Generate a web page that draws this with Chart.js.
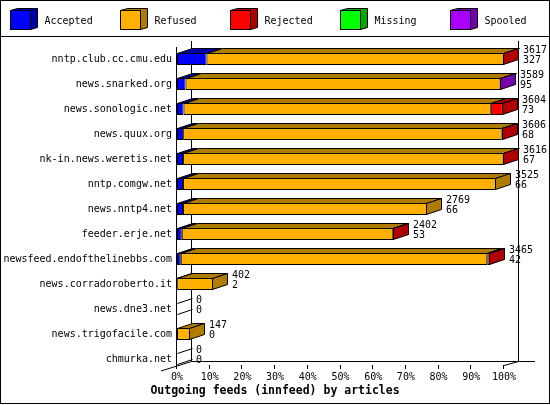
<!DOCTYPE html>
<html lang="en">
<head>
<meta charset="UTF-8">
<title>Outgoing feeds (innfeed) by articles</title>
<script src="https://cdn.jsdelivr.net/npm/chart.js@4.4.0/dist/chart.umd.min.js"></script>
<style>
  html, body { margin: 0; padding: 0; background: #fff; }
  #wrap { width: 550px; height: 405px; position: relative; }
</style>
</head>
<body>
<div id="wrap"><canvas id="feeds"></canvas></div>
<script>
// innfeed peers, top to bottom
const feeds = [
  'nntp.club.cc.cmu.edu', 'news.snarked.org', 'news.sonologic.net', 'news.quux.org',
  'nk-in.news.weretis.net', 'nntp.comgw.net', 'news.nntp4.net', 'feeder.erje.net',
  'newsfeed.endofthelinebbs.com', 'news.corradoroberto.it', 'news.dne3.net',
  'news.trigofacile.com', 'chmurka.net'
]
const offered  = [3617, 3589, 3604, 3606, 3616, 3525, 2769, 2402, 3465, 402, 0, 147, 0]
const accepted = [327, 95, 73, 68, 67, 66, 66, 53, 42, 2, 0, 0, 0]
const refused  = [3286, 3484, 3398, 3523, 3545, 3459, 2703, 2339, 3390, 400, 0, 147, 0]
const rejected = [4, 0, 133, 15, 4, 0, 0, 10, 33, 0, 0, 0, 0]
const missing  = [0, 0, 0, 0, 0, 0, 0, 0, 0, 0, 0, 0, 0]
const spooled  = [0, 10, 0, 0, 0, 0, 0, 0, 0, 0, 0, 0, 0]
const pctTicks = [0, 10, 20, 30, 40, 50, 60, 70, 80, 90, 100]

const maxOffered = Math.max(...offered)
const MONO = '"DejaVu Sans Mono", monospace'
const DX = 15, DY = 5

const series = [
  { label: 'Accepted', data: accepted, front: '#0000ff', side: '#0000a8' },
  { label: 'Refused',  data: refused,  front: '#ffb000', side: '#b07c00' },
  { label: 'Rejected', data: rejected, front: '#ff0000', side: '#b00000' },
  { label: 'Missing',  data: missing,  front: '#00ff00', side: '#00a800' },
  { label: 'Spooled',  data: spooled,  front: '#aa00ff', side: '#7400b0' }
]

function poly(ctx, pts, fill) {
  ctx.beginPath()
  ctx.moveTo(pts[0][0], pts[0][1])
  for (let k = 1; k < pts.length; k++) ctx.lineTo(pts[k][0], pts[k][1])
  ctx.closePath()
  if (fill) { ctx.fillStyle = fill; ctx.fill() }
  ctx.stroke()
}

function seg(ctx, x1, y1, x2, y2) {
  ctx.moveTo(x1, y1)
  ctx.lineTo(x2, y2)
}

// back wall, floor and tick marks, drawn under the bars
const frame3d = {
  id: 'frame3d',
  beforeDatasetsDraw(chart) {
    const { ctx, chartArea, scales: { x, y } } = chart
    const x0 = Math.round(x.getPixelForValue(0))
    const x1 = Math.round(x.getPixelForValue(maxOffered))
    const front = Math.round(y.getPixelForValue(feeds.length - 1)) + 7
    const back = front - DY
    const top = Math.round(chartArea.top)
    ctx.save()
    ctx.strokeStyle = '#000'
    ctx.lineWidth = 1
    ctx.beginPath()
    seg(ctx, x0 - 0.5, top, x0 - 0.5, front)
    seg(ctx, x0 + DX - 0.5, top - 6, x0 + DX - 0.5, back + 0.5)
    seg(ctx, x1 + DX - 0.5, top - 6, x1 + DX - 0.5, back + 0.5)
    seg(ctx, x0 + DX - 0.5, back + 0.5, x1 + DX + 16, back + 0.5)
    seg(ctx, x0 + DX - 0.5, back + 0.5, x0 - 16, front + 5)
    seg(ctx, x1, front - 0.5, x1 + DX - 0.5, back + 0.5)
    x.ticks.forEach(t => {
      const px = Math.round(x.getPixelForValue(t.value)) - 0.5
      seg(ctx, px, front - 1, px, front + 3)
    })
    ctx.stroke()
    ctx.restore()
  },
  afterDatasetsDraw(chart) {
    const { ctx, scales: { x } } = chart
    ctx.save()
    ctx.strokeStyle = '#000'
    ctx.lineWidth = 1
    feeds.forEach((name, i) => {
      let last = -1
      let t = 0, b = 0
      series.forEach((s, d) => {
        const el = chart.getDatasetMeta(d).data[i]
        t = Math.round(el.y - el.height / 2) + 0.5
        b = Math.round(el.y + el.height / 2) - 0.5
        if (!s.data[i]) return
        const l = Math.round(el.base) + 0.5
        const r = Math.round(el.x) - 0.5
        poly(ctx, [[l, t], [l + DX, t - DY], [r + DX, t - DY], [r, t]], s.side)
        last = d
      })
      const x0 = Math.round(x.getPixelForValue(0)) + 0.5
      if (last < 0) {
        ctx.beginPath()
        seg(ctx, x0, t, x0 + DX, t - DY)
        seg(ctx, x0, b, x0 + DX, b - DY)
        ctx.stroke()
      } else {
        const el = chart.getDatasetMeta(last).data[i]
        const r = Math.round(el.x) - 0.5
        poly(ctx, [[r, t], [r + DX, t - DY], [r + DX, b - DY], [r, b]], series[last].side)
      }
      // offered / accepted counts at the end of each bar
      const c = chart.getDatasetMeta(0).data[i].y
      const lx = Math.round(x.getPixelForValue(offered[i])) + DX + 4
      ctx.fillStyle = '#000'
      ctx.font = '10px ' + MONO
      ctx.textAlign = 'left'
      ctx.textBaseline = 'middle'
      ctx.fillText(String(offered[i]), lx, c - 9)
      ctx.fillText(String(accepted[i]), lx, c + 1.5)
    })
    ctx.restore()
  }
}

// legend strip with little cubes, plus the outer border
const cubeLegend = {
  id: 'cubeLegend',
  afterDraw(chart) {
    const { ctx, width } = chart
    ctx.save()
    ctx.strokeStyle = '#000'
    ctx.lineWidth = 1
    series.forEach((s, i) => {
      const lx = 10.5 + 110 * i, ly = 10.5, w = 20, h = 19
      poly(ctx, [[lx, ly], [lx + 7, ly - 2], [lx + w + 7, ly - 2], [lx + w + 7, ly + h - 2], [lx + w, ly + h], [lx + w, ly]], s.side)
      ctx.fillStyle = s.front
      ctx.fillRect(lx, ly, w, h)
      ctx.strokeRect(lx, ly, w, h)
      ctx.fillStyle = '#000'
      ctx.font = '10px ' + MONO
      ctx.textAlign = 'left'
      ctx.textBaseline = 'middle'
      ctx.fillText(s.label, lx + 34, 21)
    })
    ctx.beginPath()
    seg(ctx, 0, 36.5, width, 36.5)
    ctx.stroke()
    ctx.strokeRect(0.5, 0.5, width - 1, 403)
    ctx.restore()
  }
}

Chart.defaults.font.family = MONO
Chart.defaults.font.size = 10
Chart.defaults.color = '#000'

new Chart(document.getElementById('feeds'), {
  type: 'bar',
  data: {
    labels: feeds,
    datasets: series.map(s => ({
      label: s.label,
      data: s.data,
      backgroundColor: s.front,
      borderColor: '#000',
      borderWidth: 1,
      borderSkipped: false,
      inflateAmount: 0,
      barThickness: 12
    }))
  },
  options: {
    indexAxis: 'y',
    responsive: true,
    maintainAspectRatio: false,
    animation: false,
    events: [],
    layout: { padding: { top: 46.5, right: 0, bottom: 0, left: 0 } },
    scales: {
      x: {
        stacked: true,
        min: 0,
        max: maxOffered,
        grid: { display: false, drawTicks: false },
        border: { display: false },
        afterBuildTicks: axis => { axis.ticks = pctTicks.map(p => ({ value: maxOffered * p / 100 })) },
        afterFit: axis => { axis.height = 12.7 },
        ticks: {
          autoSkip: false,
          maxRotation: 0,
          padding: 0,
          callback: v => Math.round(v / maxOffered * 100) + '%'
        }
      },
      y: {
        stacked: true,
        grid: { display: false, drawTicks: false },
        border: { display: false },
        afterFit: axis => { axis.width = 177 },
        ticks: { padding: 5, autoSkip: false }
      },
      // empty strip on the right for the count labels
      yRight: {
        type: 'category',
        position: 'right',
        grid: { display: false, drawTicks: false },
        border: { display: false },
        ticks: { display: false },
        afterFit: axis => { axis.width = 46 }
      }
    },
    plugins: {
      legend: { display: false },
      tooltip: { enabled: false },
      title: {
        display: true,
        position: 'bottom',
        text: 'Outgoing feeds (innfeed) by articles',
        color: '#000',
        font: { family: MONO, size: 11.5, weight: 'bold' },
        padding: { top: 0, bottom: 7 }
      }
    }
  },
  plugins: [frame3d, cubeLegend]
})
</script>
</body>
</html>
